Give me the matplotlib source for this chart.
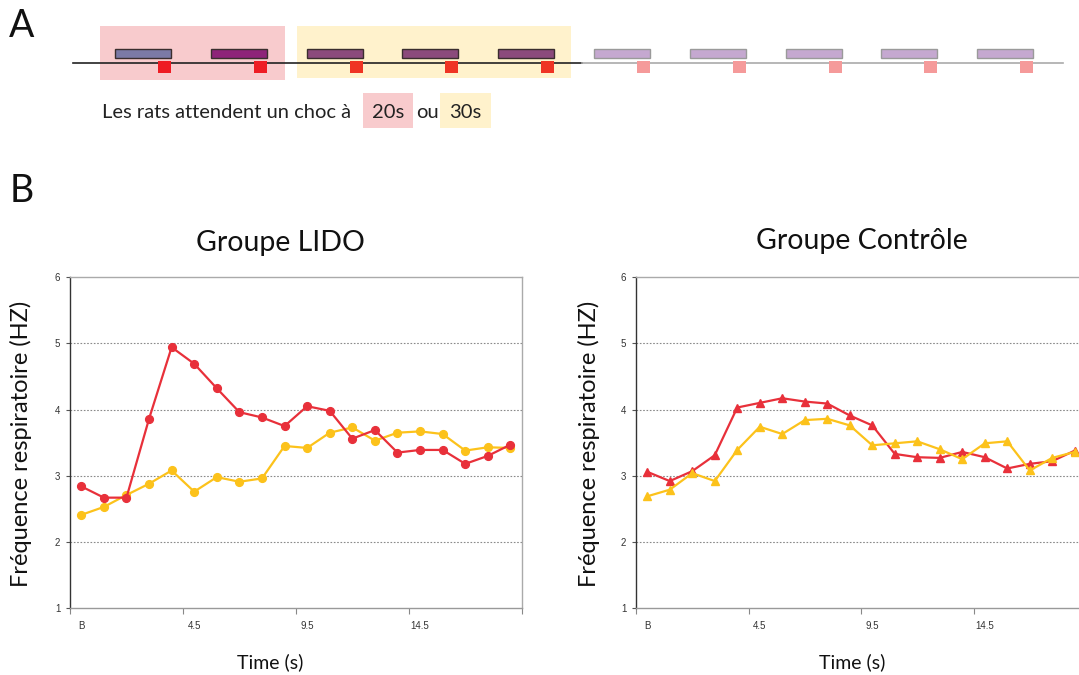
import matplotlib
matplotlib.use("Agg")
import matplotlib.pyplot as plt
from matplotlib.patches import Rectangle

# ---------------- data ----------------
categories = ["B", "0.5", "1.5", "2.5", "3.5", "4.5", "5.5", "6.5", "7.5", "8.5",
              "9.5", "10.5", "11.5", "12.5", "13.5", "14.5", "15.5", "16.5", "17.5", "18.5"]
tick_labels = ["B", "4.5", "9.5", "14.5"]

lido_20s = [2.84, 2.67, 2.67, 3.86, 4.94, 4.69, 4.32, 3.96, 3.88, 3.75,
            4.05, 3.98, 3.56, 3.69, 3.35, 3.39, 3.39, 3.18, 3.30, 3.47]
lido_30s = [2.41, 2.53, 2.71, 2.88, 3.08, 2.76, 2.98, 2.91, 2.96, 3.45,
            3.42, 3.65, 3.73, 3.53, 3.65, 3.67, 3.63, 3.38, 3.43, 3.42]
ctrl_20s = [3.06, 2.92, 3.07, 3.31, 4.03, 4.10, 4.17, 4.12, 4.09, 3.91,
            3.76, 3.33, 3.28, 3.27, 3.36, 3.28, 3.11, 3.18, 3.22, 3.38]
ctrl_30s = [2.69, 2.79, 3.04, 2.92, 3.39, 3.74, 3.63, 3.84, 3.86, 3.76,
            3.46, 3.49, 3.52, 3.40, 3.25, 3.49, 3.52, 3.08, 3.27, 3.36]

# schematic (panel A): trial bar colours
bar_colors = ["#7b7aa6", "#8e2379", "#8b4a7c", "#8b4a7c", "#8b4a7c",
              "#c5a8d0", "#c5a8d0", "#c5a8d0", "#c5a8d0", "#c5a8d0"]
bar_edges = ["#3a2e2e"] * 5 + ["#9a9a9a"] * 5
shock_colors = ["#ee1c24", "#ee1c24", "#ef3424", "#ef3424", "#ef3424",
                "#f59a9a", "#f59a9a", "#f59a9a", "#f59a9a", "#f59a9a"]

RED = "#e8303a"
YELLOW = "#fcc21b"

W, H = 1079, 675
fig = plt.figure(figsize=(W / 100, H / 100), dpi=100)

TXT = ["Lato", "DejaVu Sans"]
NUM = ["Liberation Sans", "DejaVu Sans"]


def fx(x):
    return x / W


def fy(y):
    return 1 - y / H


# ---------------- panel A (schematic) ----------------
ov = fig.add_axes([0, 0, 1, 1], zorder=0)
ov.set_xlim(0, W)
ov.set_ylim(H, 0)
ov.axis("off")

ov.add_patch(Rectangle((100, 26), 185, 54, color="#f8cbcd", lw=0))
ov.add_patch(Rectangle((297, 26), 274, 52, color="#fff2cc", lw=0))
ov.plot([73, 582], [63.3, 63.3], color="#222222", lw=1.2)
ov.plot([582, 1063], [63.3, 63.3], color="#aaaaaa", lw=1.2)

first_bar, spacing, bar_w, sq_w = 115, 95.8, 56, 13
for i, (bc, be, sc) in enumerate(zip(bar_colors, bar_edges, shock_colors)):
    x0 = first_bar + i * spacing
    ov.add_patch(Rectangle((x0, 49), bar_w, 9, facecolor=bc, edgecolor=be, lw=1.0))
    ov.add_patch(Rectangle((x0 + bar_w - sq_w, 61), sq_w, 12, facecolor=sc, lw=0, zorder=3))

ov.add_patch(Rectangle((363, 93), 50, 35, color="#f8cbcd", lw=0))
ov.add_patch(Rectangle((440, 93), 51, 35, color="#fff2cc", lw=0))
ov.text(102, 112, "Les rats attendent un choc à", fontsize=14.5, family=TXT,
        va="center", ha="left", color="#222222")
ov.text(388, 112, "20s", fontsize=14.5, family=TXT, va="center", ha="center", color="#222222")
ov.text(427, 112, "ou", fontsize=14.5, family=TXT, va="center", ha="center", color="#222222")
ov.text(465, 112, "30s", fontsize=14.5, family=TXT, va="center", ha="center", color="#222222")

ov.text(9, 26, "A", fontsize=27, family=TXT, va="center", ha="left", color="#111111")
ov.text(10, 191, "B", fontsize=27, family=TXT, va="center", ha="left", color="#111111")

# ---------------- panel B (charts) ----------------
top, bottom = 277, 608.3
ax_h = (bottom - top) / H


def style_axes(ax):
    x = list(range(len(categories)))
    ax.set_xlim(-0.5, len(categories) - 0.5)
    ax.set_ylim(1, 6)
    ax.set_yticks([1, 2, 3, 4, 5, 6])
    ax.set_yticklabels(["1", "2", "3", "4", "5", "6"], family=NUM, fontsize=7, color="#333333")
    ax.tick_params(axis="y", length=3, width=0.8, color="#555555", pad=4)
    ax.set_xticks([-0.5, 4.5, 9.5, 14.5, 19.5])
    ax.set_xticklabels([""] * 5)
    ax.tick_params(axis="x", which="major", length=4, width=0.8, color="#888888")
    ax.set_xticks([x[0], x[5], x[10], x[15]], minor=True)
    ax.set_xticklabels(tick_labels, minor=True, family=NUM, fontsize=7, color="#333333")
    ax.tick_params(axis="x", which="minor", length=0, pad=9)
    for yv in [2, 3, 4, 5]:
        ax.axhline(yv, color="#8a8a8a", lw=0.8, ls=(0, (1.5, 1.5)), zorder=1)
    ax.spines["left"].set_color("#333333")
    ax.spines["bottom"].set_color("#999999")
    ax.spines["right"].set_color("#aaaaaa")
    ax.spines["top"].set_color("#aaaaaa")
    for s in ax.spines.values():
        s.set_linewidth(1.0)
    return x


axL = fig.add_axes([fx(70), fy(bottom), (521.7 - 70) / W, ax_h], zorder=2)
axL.patch.set_alpha(0)
xL = style_axes(axL)
axL.plot(xL, lido_30s, color=YELLOW, lw=1.6, marker="o", ms=5.6, zorder=3)
axL.plot(xL, lido_20s, color=RED, lw=1.6, marker="o", ms=5.6, zorder=4)

axR = fig.add_axes([fx(636), fy(bottom), (1086 - 636) / W, ax_h], zorder=2)
axR.patch.set_alpha(0)
xR = style_axes(axR)
axR.plot(xR, ctrl_20s, color=RED, lw=1.6, marker="^", ms=6.3, zorder=3)
axR.plot(xR, ctrl_30s, color=YELLOW, lw=1.6, marker="^", ms=6.3, zorder=4)

# titles and axis labels
fig.text(fx(280), fy(243), "Groupe LIDO", fontsize=20.5, family=TXT, ha="center", va="center", color="#111111")
fig.text(fx(862), fy(241), "Groupe Contrôle", fontsize=20.5, family=TXT, ha="center", va="center", color="#111111")
fig.text(fx(270), fy(662), "Time (s)", fontsize=14, family=TXT, ha="center", va="center", color="#111111")
fig.text(fx(852), fy(662), "Time (s)", fontsize=14, family=TXT, ha="center", va="center", color="#111111")
fig.text(fx(21), fy(444), "Fréquence respiratoire (HZ)", fontsize=17, family=TXT, rotation=90,
         ha="center", va="center", color="#111111")
fig.text(fx(589), fy(444), "Fréquence respiratoire (HZ)", fontsize=17, family=TXT, rotation=90,
         ha="center", va="center", color="#111111")

fig.savefig("out.png", dpi=100)
